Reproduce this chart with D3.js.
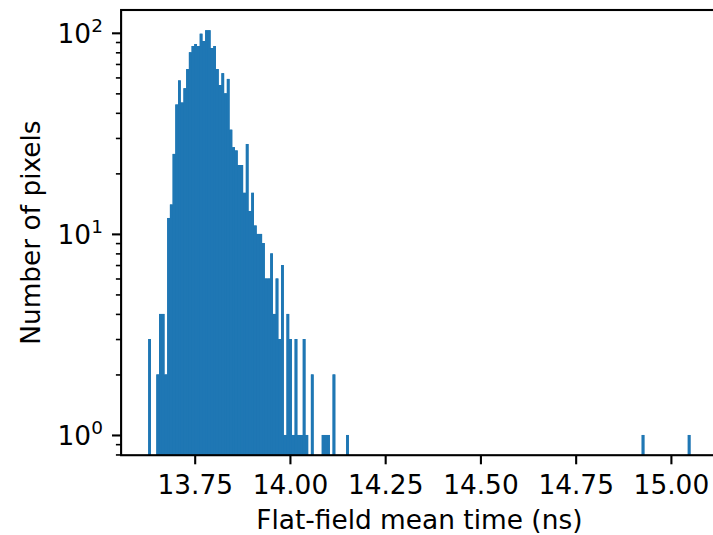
<!DOCTYPE html>
<html><head><meta charset="utf-8">
<script src="https://cdn.jsdelivr.net/npm/d3@7"></script>
<style>
body{margin:0;background:#fff;}
text{font-family:"DejaVu Sans",sans-serif;fill:#000;}
</style>
</head><body>
<svg id="chart" width="713" height="535"></svg>
<script>
// ---- data ----
const binStart = 13.628;     // left edge of first histogram bin (ns)
const binWidth = 0.007117;   // width of each bin (ns), 200 bins
const counts = [
  3, 0, 0, 2, 4, 4, 2, 12, 14, 25, 44, 58, 45, 53, 66, 80, 86, 88, 86, 99,
  91, 103, 103, 84, 86, 66, 55, 63, 50, 59, 33, 27, 26, 22, 22, 16, 28, 13, 16, 11,
  10, 10, 9, 6, 6, 8, 4, 6, 3, 7, 1, 4, 3, 1, 3, 1, 1, 3, 1, 0,
  2, 0, 0, 0, 1, 1, 1, 0, 2, 0, 0, 0, 0, 1, 0, 0, 0, 0, 0, 0,
  0, 0, 0, 0, 0, 0, 0, 0, 0, 0, 0, 0, 0, 0, 0, 0, 0, 0, 0, 0,
  0, 0, 0, 0, 0, 0, 0, 0, 0, 0, 0, 0, 0, 0, 0, 0, 0, 0, 0, 0,
  0, 0, 0, 0, 0, 0, 0, 0, 0, 0, 0, 0, 0, 0, 0, 0, 0, 0, 0, 0,
  0, 0, 0, 0, 0, 0, 0, 0, 0, 0, 0, 0, 0, 0, 0, 0, 0, 0, 0, 0,
  0, 0, 0, 0, 0, 0, 0, 0, 0, 0, 0, 0, 0, 0, 0, 0, 0, 0, 0, 0,
  0, 0, 1, 0, 0, 0, 0, 0, 0, 0, 0, 0, 0, 0, 0, 0, 0, 0, 0, 1
];
const xTicks = [13.75, 14.00, 14.25, 14.50, 14.75, 15.00];
const xTickLabels = ["13.75", "14.00", "14.25", "14.50", "14.75", "15.00"];
const yTicks = [1, 10, 100];
const yTickExponents = ["0", "1", "2"];
const yMinorTicks = [0.8, 0.9, 2, 3, 4, 5, 6, 7, 8, 9, 20, 30, 40, 50, 60, 70, 80, 90];
const xLabel = "Flat-field mean time (ns)";
const yLabel = "Number of pixels";

// ---- layout ----
const plot = {left: 121.1, right: 717.6, top: 10, bottom: 455.2};
const FS = 26.4;
const barColor = "#1f77b4";

const svg = d3.select("#chart");
const bins = counts.map((c, i) => ({
  x0: binStart + i * binWidth,
  x1: binStart + (i + 1) * binWidth,
  count: c
}));
const filled = bins.filter(b => b.count > 0);
const dataMin = bins[0].x0, dataMax = bins[bins.length - 1].x1;
const pad = 0.05 * (dataMax - dataMin);
const x = d3.scaleLinear().domain([dataMin - pad, dataMax + pad]).range([plot.left, plot.right]);
const lmax = Math.log10(d3.max(counts));
const y = d3.scaleLog().domain([Math.pow(10, -0.05 * lmax), Math.pow(10, 1.05 * lmax)]).range([plot.bottom, plot.top]);

svg.append("defs").append("clipPath").attr("id", "clip")
  .append("rect").attr("x", plot.left).attr("y", plot.top)
  .attr("width", plot.right - plot.left).attr("height", plot.bottom - plot.top);

const gBars = svg.append("g").attr("clip-path", "url(#clip)");
// combined silhouette underneath (hides anti-aliasing seams between adjacent bars)
const path = d3.path();
filled.forEach(d => {
  path.rect(x(d.x0), y(d.count), x(d.x1) - x(d.x0), plot.bottom - y(d.count));
});
gBars.append("path").attr("d", path.toString()).attr("fill", barColor);
// individual bars
gBars.selectAll("rect").data(filled).join("rect")
  .attr("x", d => x(d.x0))
  .attr("width", d => x(d.x1) - x(d.x0))
  .attr("y", d => y(d.count))
  .attr("height", d => plot.bottom - y(d.count))
  .attr("fill", barColor);

// x axis
const xAxis = d3.axisBottom(x).tickValues(xTicks).tickSize(9.1).tickPadding(9.1)
  .tickFormat((d, i) => xTickLabels[i]);
const gx = svg.append("g").attr("transform", `translate(0,${plot.bottom})`).call(xAxis);
gx.select(".domain").remove();
gx.selectAll(".tick line").attr("stroke", "#000").attr("stroke-width", 2.1);
gx.selectAll(".tick text").attr("y", 39.1).attr("dy", null)
  .style("font-size", FS + "px").style("font-family", "'DejaVu Sans', sans-serif");

// y axis major
const yAxis = d3.axisLeft(y).tickValues(yTicks).tickSize(9.1).tickPadding(9.1).tickFormat(() => "");
const gy = svg.append("g").attr("transform", `translate(${plot.left},0)`).call(yAxis);
gy.select(".domain").remove();
gy.selectAll(".tick line").attr("stroke", "#000").attr("stroke-width", 2.1);
gy.selectAll(".tick text").remove();
gy.selectAll(".tick").each(function(d, i) {
  const t = d3.select(this).append("text")
    .attr("x", -18.2).attr("y", 9.8)
    .attr("text-anchor", "end")
    .style("font-size", FS + "px");
  t.append("tspan").text("10");
  t.append("tspan").attr("dy", -10.8).style("font-size", (FS * 0.7) + "px").text(yTickExponents[i]);
});

// y axis minor
const yMinor = d3.axisLeft(y).tickValues(yMinorTicks).tickSize(5.2).tickFormat(() => "");
const gym = svg.append("g").attr("transform", `translate(${plot.left},0)`).call(yMinor);
gym.select(".domain").remove();
gym.selectAll(".tick line").attr("stroke", "#000").attr("stroke-width", 1.6);
gym.selectAll(".tick text").remove();

// frame (spines)
svg.append("rect")
  .attr("x", plot.left).attr("y", plot.top)
  .attr("width", plot.right - plot.left).attr("height", plot.bottom - plot.top)
  .attr("fill", "none").attr("stroke", "#000").attr("stroke-width", 2.1)
  .attr("stroke-linejoin", "miter");

// axis labels
svg.append("text")
  .attr("x", (plot.left + plot.right) / 2).attr("y", 529)
  .attr("text-anchor", "middle").style("font-size", FS + "px")
  .text(xLabel);
svg.append("text")
  .attr("transform", `translate(40,${(plot.top + plot.bottom) / 2}) rotate(-90)`)
  .attr("text-anchor", "middle").style("font-size", FS + "px")
  .text(yLabel);
</script>
</body></html>
